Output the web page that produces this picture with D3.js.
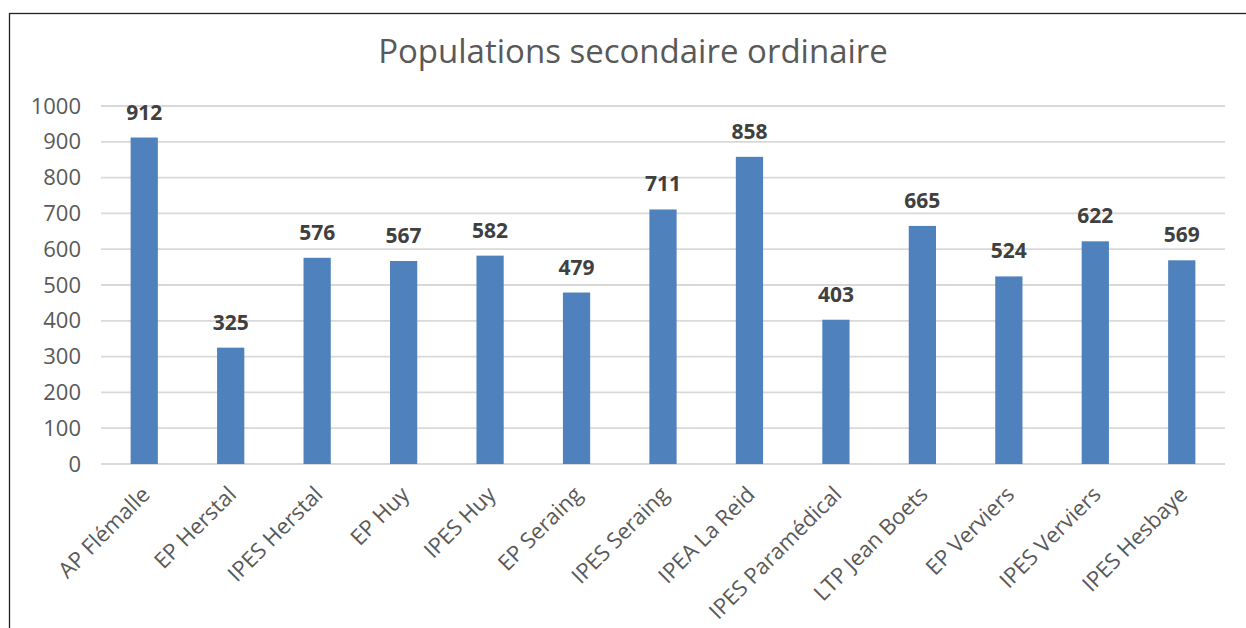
<!DOCTYPE html>
<html>
<head>
<meta charset="utf-8">
<script src="https://cdn.jsdelivr.net/npm/d3@7"></script>
<style>
  body { margin: 0; background: #fff; }
  svg { display: block; }
</style>
</head>
<body>
<div class="chart"></div>
<script>
// data
var schools = ["AP Flémalle", "EP Herstal", "IPES Herstal", "EP Huy", "IPES Huy", "EP Seraing",
    "IPES Seraing", "IPEA La Reid", "IPES Paramédical", "LTP Jean Boets", "EP Verviers",
    "IPES Verviers", "IPES Hesbaye"];
var students = [912, 325, 576, 567, 582, 479, 711, 858, 403, 665, 524, 622, 569];
var yTicks = [0, 100, 200, 300, 400, 500, 600, 700, 800, 900, 1000];

var width = 1246;
var height = 628;
var font = "'Open Sans', sans-serif";

var svg = d3.select('.chart')
    .append('svg')
    .attr('width', width)
    .attr('height', height);

// outer frame (only top + left visible in the reference)
svg.append('rect')
    .attr('x', 9.5).attr('y', 13.5)
    .attr('width', 1240).attr('height', 700)
    .attr('fill', 'none')
    .attr('stroke', '#222')
    .attr('stroke-width', 1.3);

var plot = { left: 101, right: 1225, top: 106, bottom: 464 };

var x = d3.scaleBand()
    .domain(schools)
    .range([plot.left, plot.right])
    .paddingInner(0.685)
    .paddingOuter(0.3425);

var y = d3.scaleLinear()
    .domain([0, 1000])
    .range([plot.bottom, plot.top]);

// title
svg.append('text')
    .attr('x', 633)
    .attr('y', 63)
    .attr('text-anchor', 'middle')
    .attr('font-family', font)
    .attr('font-size', 33)
    .attr('fill', '#595959')
    .text('Populations secondaire ordinaire');

// gridlines
svg.append('g')
    .selectAll('line')
    .data(yTicks)
    .enter()
        .append('line')
        .attr('x1', plot.left)
        .attr('x2', plot.right)
        .attr('y1', function(d){ return y(d); })
        .attr('y2', function(d){ return y(d); })
        .attr('stroke', '#d9d9d9')
        .attr('stroke-width', 1.8);

// y axis labels
var yAxis = svg.append('g')
    .attr('transform', 'translate(' + (plot.left - 20) + ',0)')
    .call(d3.axisLeft(y).tickValues(yTicks).tickFormat(d3.format('d')).tickSize(0).tickPadding(0));
yAxis.select('.domain').remove();
yAxis.selectAll('text')
    .attr('font-family', font)
    .attr('font-size', 22)
    .attr('fill', '#595959');

// bars
svg.append('g')
    .selectAll('rect')
    .data(students)
    .enter()
        .append('rect')
        .attr('x', function(d, i){ return x(schools[i]); })
        .attr('y', function(d){ return y(d); })
        .attr('width', x.bandwidth())
        .attr('height', function(d){ return y(0) - y(d); })
        .attr('fill', '#4f81bd');

// value labels
svg.append('g')
    .selectAll('text')
    .data(students)
    .enter()
        .append('text')
        .attr('x', function(d, i){ return x(schools[i]) + x.bandwidth() / 2; })
        .attr('y', function(d){ return y(d) - 18; })
        .attr('text-anchor', 'middle')
        .attr('font-family', font)
        .attr('font-weight', 'bold')
        .attr('font-size', 21)
        .attr('fill', '#404040')
        .text(function(d){ return d; });

// category labels, rotated
svg.append('g')
    .selectAll('text')
    .data(schools)
    .enter()
        .append('text')
        .attr('transform', function(d){
            var cx = x(d) + x.bandwidth() / 2;
            return 'translate(' + (cx - 4) + ',' + 485 + ') rotate(-45)';
        })
        .attr('text-anchor', 'end')
        .attr('dy', '0.7em')
        .attr('font-family', font)
        .attr('font-size', 22)
        .attr('fill', '#595959')
        .text(function(d){ return d; });
</script>
</body>
</html>
